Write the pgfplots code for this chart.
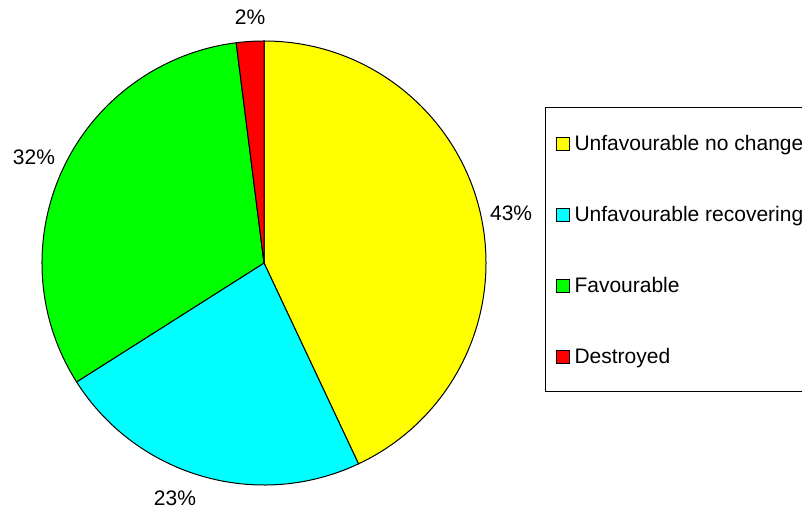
\documentclass[border=0pt]{standalone}
\usepackage{fontspec}
\setmainfont{Liberation Sans}
\usepackage{pgfplots}
\pgfplotsset{compat=1.18}
\definecolor{sliceYellow}{RGB}{255,255,0}
\definecolor{sliceCyan}{RGB}{0,255,255}
\definecolor{sliceGreen}{RGB}{0,255,0}
\definecolor{sliceRed}{RGB}{255,0,0}

\begin{document}
\begin{tikzpicture}[font=\fontsize{21}{25}\selectfont]
\useasboundingbox (0pt,0pt) rectangle (802pt,510pt);
\clip (0pt,0pt) rectangle (802pt,510pt);
\begin{axis}[
  at={(264pt,247pt)}, anchor=center,
  x=222pt, y=222pt,
  xmin=-1, xmax=1, ymin=-1, ymax=1,
  hide axis, clip=false,
  legend cell align=left,
  legend image code/.code={\draw[#1] (0pt,0pt) rectangle (13pt,13pt);},
  legend style={
    at={(axis description cs:1.1329,0.8514)}, anchor=north west,
    draw=black, line width=1pt,
    inner xsep=10pt, inner ysep=26pt,
    row sep=51.5pt, column sep=5pt,
    nodes={anchor=base west, inner sep=0pt, text height=17.5pt, text depth=2pt},
  },
]
% slices run clockwise from 12 o'clock, 3.6 degrees per percent
\addplot[draw=black, line width=1pt, fill=sliceYellow, data cs=polar]
  coordinates {(0,0) (90,1)}
  arc[start angle=90, delta angle=-3.6*43, radius=222pt] -- cycle;
\addlegendentry{Unfavourable no change}
\addplot[draw=black, line width=1pt, fill=sliceCyan, data cs=polar]
  coordinates {(0,0) (-64.8,1)}
  arc[start angle=-64.8, delta angle=-3.6*23, radius=222pt] -- cycle;
\addlegendentry{Unfavourable recovering}
\addplot[draw=black, line width=1pt, fill=sliceGreen, data cs=polar]
  coordinates {(0,0) (-147.6,1)}
  arc[start angle=-147.6, delta angle=-3.6*32, radius=222pt] -- cycle;
\addlegendentry{Favourable}
\addplot[draw=black, line width=1pt, fill=sliceRed, data cs=polar]
  coordinates {(0,0) (97.2,1)}
  arc[start angle=97.2, delta angle=-3.6*2, radius=222pt] -- cycle;
\addlegendentry{Destroyed}

% percentage labels outside the slices
\node at (axis cs:1.113,0.225) {43\%};
\node at (axis cs:-0.401,-1.059) {23\%};
\node at (axis cs:-1.036,0.477) {32\%};
\node at (axis cs:-0.063,1.108) {2\%};
\end{axis}
\end{tikzpicture}
\end{document}
